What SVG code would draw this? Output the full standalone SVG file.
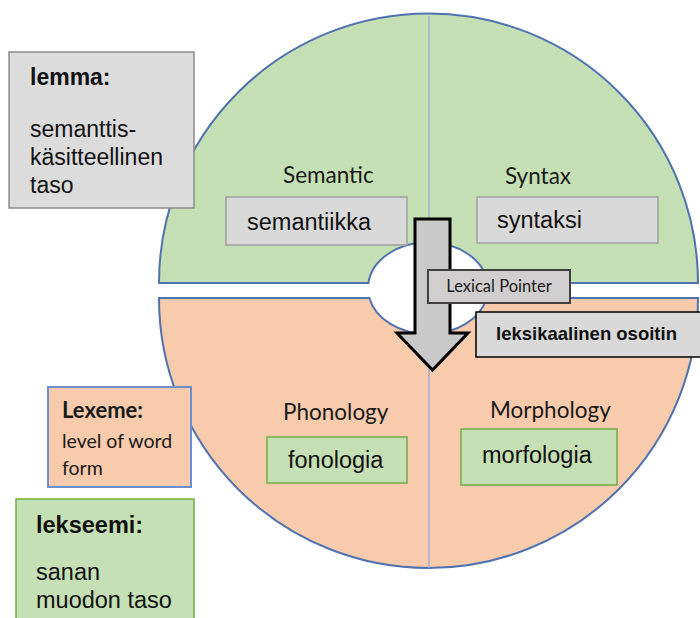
<svg xmlns="http://www.w3.org/2000/svg" width="700" height="618" viewBox="0 0 700 618">
  <style>
    .half { stroke: #4f72b0; stroke-width: 2; }
    .green { fill: #c5e0b4; }
    .orange { fill: #f8cbad; }
    .divider { stroke: #8ea9db; stroke-width: 1.2; fill: none; }
    .gbox { fill: #d9d9d9; stroke: #a0a0a0; stroke-width: 1.5; }
    .grbox { fill: #c5e0b4; stroke: #70ad47; stroke-width: 1.5; }
    .arial { font-family: "Liberation Sans", Arial, sans-serif; fill: #111; }
    .cal { font-family: Lato, "Open Sans", sans-serif; fill: #1a1a1a; }
    .b { font-weight: bold; }
  </style>

  <g id="wheel">
    <path id="top-half" class="half green" d="M159,283 A269.5,269.5 0 0 1 698,283 L487.6,283 A60,46 0 0 0 368.4,283 Z"/>
    <path id="bottom-half" class="half orange" d="M159,298 L369.4,298 A60,46 0 0 0 486.6,298 L698,298 A269.5,270 0 0 1 159,298 Z"/>
    <line class="divider" x1="429" y1="16" x2="429" y2="242"/>
    <line class="divider" x1="429" y1="334" x2="429" y2="568"/>
  </g>

  <g id="semantic">
    <text class="cal" x="283" y="183" font-size="22.5">Semantic</text>
    <rect class="gbox" x="226" y="197" width="181" height="48"/>
    <text class="arial" x="247" y="230" font-size="23.5">semantiikka</text>
  </g>

  <g id="syntax">
    <text class="cal" x="505" y="184" font-size="22.5">Syntax</text>
    <rect class="gbox" x="477" y="197" width="181" height="46"/>
    <text class="arial" x="497" y="228" font-size="23.5">syntaksi</text>
  </g>

  <g id="phonology">
    <text class="cal" x="283" y="420" font-size="22.5">Phonology</text>
    <rect class="grbox" x="267" y="437" width="140" height="46"/>
    <text class="arial" x="288" y="468" font-size="23.5">fonologia</text>
  </g>

  <g id="morphology">
    <text class="cal" x="490" y="418" font-size="22.5">Morphology</text>
    <rect class="grbox" x="461" y="429" width="156" height="56"/>
    <text class="arial" x="482" y="463" font-size="23.5">morfologia</text>
  </g>

  <g id="lemma">
    <rect x="9" y="52" width="185" height="156" fill="#dcdcdc" stroke="#8c8c8c" stroke-width="1.5"/>
    <text class="arial b" x="30" y="85" font-size="23">lemma:</text>
    <text class="arial" x="30" y="137" font-size="23">semanttis-</text>
    <text class="arial" x="30" y="165" font-size="23">käsitteellinen</text>
    <text class="arial" x="30" y="193" font-size="23">taso</text>
  </g>

  <g id="lexeme">
    <rect x="48" y="387" width="143" height="100" fill="#f8cbad" stroke="#6f8fd0" stroke-width="2"/>
    <text class="cal b" x="62" y="418" font-size="22">Lexeme:</text>
    <text class="cal" x="62" y="448" font-size="19.5">level of word</text>
    <text class="cal" x="62" y="475" font-size="19.5">form</text>
  </g>

  <g id="lekseemi">
    <rect class="grbox" x="16" y="499" width="178" height="130"/>
    <text class="arial b" x="36" y="533" font-size="23.5">lekseemi:</text>
    <text class="arial" x="36" y="580" font-size="23.5">sanan</text>
    <text class="arial" x="36" y="608" font-size="23.5">muodon taso</text>
  </g>

  <g id="connectors">
    <path id="lexical-arrow" d="M415,219 L450,219 L450,333 L468,333 L432.5,370 L397,333 L415,333 Z" fill="#c9c9c9" stroke="#000" stroke-width="3" stroke-linejoin="miter"/>
  </g>

  <g id="lexical-pointer">
    <rect x="428" y="270" width="142" height="33" fill="#d0cece" stroke="#404040" stroke-width="2"/>
    <text class="cal" x="499" y="292" font-size="16.5" text-anchor="middle" fill="#333">Lexical Pointer</text>
  </g>

  <g id="leksikaalinen-osoitin">
    <rect x="476" y="312" width="240" height="45" fill="#d9d9d9" stroke="#000" stroke-width="1.5"/>
    <text class="arial b" x="496" y="340" font-size="18.5">leksikaalinen osoitin</text>
  </g>
</svg>
